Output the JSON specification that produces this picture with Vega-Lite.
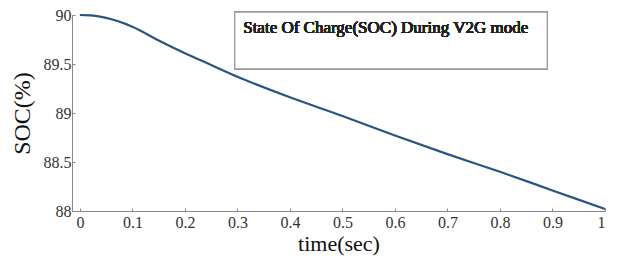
{
  "$schema": "https://vega.github.io/schema/vega-lite/v6.json",
  "width": 533,
  "height": 196,
  "autosize": {"type": "none"},
  "padding": {"left": 72, "top": 15, "right": 19, "bottom": 52},
  "background": "white",
  "config": {
    "view": {"stroke": null},
    "font": "Times New Roman",
    "axis": {
      "grid": false,
      "domainColor": "#888",
      "tickColor": "#888",
      "labelFont": "Times New Roman",
      "titleFont": "Times New Roman",
      "labelColor": "#333",
      "titleColor": "#111",
      "labelFontSize": 16,
      "titleFontWeight": "normal"
    }
  },
  "data": {
    "values": [
      {"t": 0.0, "soc": 90.0},
      {"t": 0.02, "soc": 89.997},
      {"t": 0.05, "soc": 89.97},
      {"t": 0.1, "soc": 89.88},
      {"t": 0.15, "soc": 89.74},
      {"t": 0.2, "soc": 89.61},
      {"t": 0.25, "soc": 89.49},
      {"t": 0.3, "soc": 89.37},
      {"t": 0.4, "soc": 89.16},
      {"t": 0.5, "soc": 88.97},
      {"t": 0.6, "soc": 88.77},
      {"t": 0.7, "soc": 88.58},
      {"t": 0.8, "soc": 88.4},
      {"t": 0.9, "soc": 88.21},
      {"t": 1.0, "soc": 88.02}
    ]
  },
  "layer": [
    {
      "mark": {"type": "line", "color": "#2b5580", "strokeWidth": 2.2, "interpolate": "monotone"},
      "encoding": {
        "x": {
          "field": "t", "type": "quantitative",
          "scale": {"domain": [-0.015, 1], "nice": false, "zero": false},
          "axis": {
            "values": [0, 0.1, 0.2, 0.3, 0.4, 0.5, 0.6, 0.7, 0.8, 0.9, 1],
            "labelExpr": "toString(datum.value)",
            "title": "time(sec)",
            "titleFontSize": 22,
            "tickSize": -3,
            "labelPadding": 6,
            "titlePadding": 3
          }
        },
        "y": {
          "field": "soc", "type": "quantitative",
          "scale": {"domain": [88, 90], "nice": false, "zero": false},
          "axis": {
            "values": [88, 88.5, 89, 89.5, 90],
            "labelExpr": "toString(datum.value)",
            "title": "SOC(%)",
            "titleFontSize": 24,
            "tickSize": -3,
            "labelPadding": 4,
            "titleX": -38,
            "titlePadding": 8
          }
        }
      }
    },
    {
      "mark": {"type": "rect", "fill": "white", "stroke": "#9a9a9a", "strokeWidth": 1.2, "clip": false},
      "encoding": {
        "x": {"datum": 0.295, "type": "quantitative"},
        "x2": {"datum": 0.89},
        "y": {"datum": 90.03, "type": "quantitative"},
        "y2": {"datum": 89.45}
      }
    },
    {
      "mark": {"type": "text", "align": "left", "baseline": "middle", "fontSize": 17, "fontWeight": "normal", "font": "Times New Roman", "color": "#222"},
      "encoding": {
        "x": {"datum": 0.311, "type": "quantitative"},
        "y": {"datum": 89.87, "type": "quantitative"},
        "text": {"value": "State Of Charge(SOC) During V2G mode"}
      }
    }
  ]
}
